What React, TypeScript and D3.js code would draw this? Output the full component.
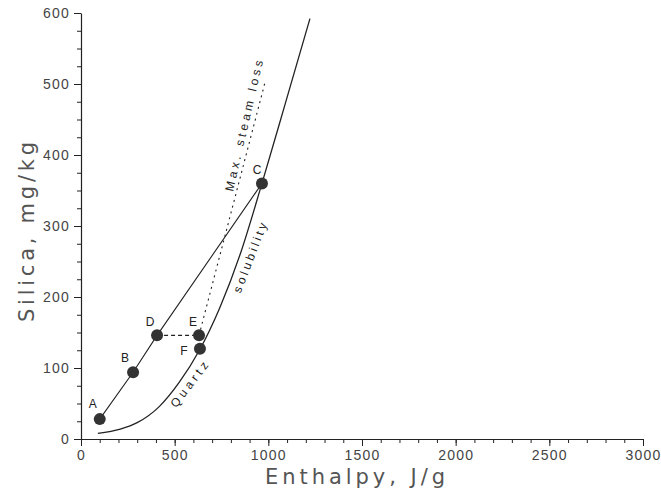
import { useEffect, useRef } from 'react';
import * as d3 from 'd3';

// points on the mixing line (enthalpy J/g, silica mg/kg)
const mixLabels = ['A', 'B', 'D', 'C'];
const mixH = [100, 278, 406, 966];
const mixS = [28, 94, 146, 360];

// separated water / steam points
const sepLabels = ['E', 'F'];
const sepH = [630, 635];
const sepS = [146, 127];

// quartz solubility curve
const quartzH = [90, 210, 300, 419, 525, 632, 741, 852, 966, 1090, 1222];
const quartzS = [8, 14, 23, 46, 80, 125, 185, 262, 360, 472, 592];

// max steam loss line, from E upwards
const steamH = [630, 985];
const steamS = [146, 505];

const xTicks = [0, 500, 1000, 1500, 2000, 2500, 3000];
const yTicks = [0, 100, 200, 300, 400, 500, 600];

function Chart() {
  const svgRef = useRef<SVGSVGElement>(null);

  useEffect(() => {
    const width = 661;
    const height = 495;
    const ink = '#222';

    const svg = d3.select(svgRef.current)
      .attr('width', width)
      .attr('height', height);

    svg.selectAll('*').remove();

    const x = d3.scaleLinear().domain([0, 3000]).range([81, 643]);
    const y = d3.scaleLinear().domain([0, 600]).range([439, 13]);

    // minor ticks
    svg.append('g')
      .attr('transform', `translate(0, ${y(0)})`)
      .call(d3.axisBottom(x).tickValues(d3.range(0, 3001, 100)).tickSize(4).tickFormat(() => ''))
      .call(g => g.select('.domain').remove())
      .selectAll('line').attr('stroke', ink);

    svg.append('g')
      .attr('transform', `translate(${x(0)}, 0)`)
      .call(d3.axisLeft(y).tickValues(d3.range(0, 601, 25)).tickSize(4).tickFormat(() => ''))
      .call(g => g.select('.domain').remove())
      .selectAll('line').attr('stroke', ink);

    // major ticks + labels
    const xAxis = svg.append('g')
      .attr('transform', `translate(0, ${y(0)})`)
      .call(d3.axisBottom(x).tickValues(xTicks).tickSize(7).tickSizeOuter(0).tickPadding(4).tickFormat(d3.format('d')));
    xAxis.select('.domain').attr('stroke', ink).attr('stroke-width', 1.2);
    xAxis.selectAll('line').attr('stroke', ink);
    xAxis.selectAll('text')
      .attr('font-family', 'Liberation Sans, Arial, sans-serif')
      .attr('font-size', 14)
      .attr('letter-spacing', 1.2)
      .attr('fill', '#444');

    const yAxis = svg.append('g')
      .attr('transform', `translate(${x(0)}, 0)`)
      .call(d3.axisLeft(y).tickValues(yTicks).tickSize(7).tickSizeOuter(0).tickPadding(4).tickFormat(d3.format('d')));
    yAxis.select('.domain').attr('stroke', ink).attr('stroke-width', 1.2);
    yAxis.selectAll('line').attr('stroke', ink);
    yAxis.selectAll('text')
      .attr('font-family', 'Liberation Sans, Arial, sans-serif')
      .attr('font-size', 14)
      .attr('letter-spacing', 1.2)
      .attr('fill', '#444');

    // axis titles
    svg.append('text')
      .attr('x', 355).attr('y', 484)
      .attr('text-anchor', 'middle')
      .attr('font-family', 'DejaVu Sans, sans-serif')
      .attr('font-size', 21)
      .attr('fill', '#555')
      .attr('textLength', 180)
      .attr('lengthAdjust', 'spacing')
      .text('Enthalpy,  J/g');

    svg.append('text')
      .attr('transform', 'translate(34, 232) rotate(-90)')
      .attr('text-anchor', 'middle')
      .attr('font-family', 'DejaVu Sans, sans-serif')
      .attr('font-size', 21)
      .attr('fill', '#555')
      .attr('textLength', 180)
      .attr('lengthAdjust', 'spacing')
      .text('Silica,  mg/kg');

    const line = d3.line<[number, number]>().x(d => x(d[0])).y(d => y(d[1]));

    // quartz solubility curve
    svg.append('path')
      .datum(quartzH.map((h, i) => [h, quartzS[i]] as [number, number]))
      .attr('d', line.curve(d3.curveMonotoneX))
      .attr('fill', 'none')
      .attr('stroke', ink)
      .attr('stroke-width', 1.3);

    line.curve(d3.curveLinear);

    // mixing line A-B-D-C
    svg.append('path')
      .datum(mixH.map((h, i) => [h, mixS[i]] as [number, number]))
      .attr('d', line)
      .attr('fill', 'none')
      .attr('stroke', ink)
      .attr('stroke-width', 1.1);

    // D-E flash (dashed)
    svg.append('path')
      .datum([[mixH[2], mixS[2]], [sepH[0], sepS[0]]] as [number, number][])
      .attr('d', line)
      .attr('fill', 'none')
      .attr('stroke', ink)
      .attr('stroke-width', 1.1)
      .attr('stroke-dasharray', '4,3');

    // max steam loss (dotted)
    svg.append('path')
      .datum(steamH.map((h, i) => [h, steamS[i]] as [number, number]))
      .attr('d', line)
      .attr('fill', 'none')
      .attr('stroke', ink)
      .attr('stroke-width', 1.1)
      .attr('stroke-dasharray', '2,4');

    // points
    const pts = [
      ...mixLabels.map((l, i) => ({ l, h: mixH[i], s: mixS[i] })),
      ...sepLabels.map((l, i) => ({ l, h: sepH[i], s: sepS[i] })),
    ];
    const offsets: Record<string, [number, number]> = {
      A: [-7, -14], B: [-8, -13], D: [-7, -13], C: [-5, -13], E: [-6, -13], F: [-16, 3],
    };

    svg.append('g')
      .selectAll('circle')
      .data(pts)
      .enter()
      .append('circle')
      .attr('cx', d => x(d.h))
      .attr('cy', d => y(d.s))
      .attr('r', 6)
      .attr('fill', '#333');

    svg.append('g')
      .selectAll('text')
      .data(pts)
      .enter()
      .append('text')
      .attr('x', d => x(d.h) + offsets[d.l][0])
      .attr('y', d => y(d.s) + offsets[d.l][1])
      .attr('text-anchor', 'middle')
      .attr('dominant-baseline', 'middle')
      .attr('font-family', 'Liberation Sans, Arial, sans-serif')
      .attr('font-size', 12)
      .attr('fill', '#222')
      .text(d => d.l);

    // curve annotations
    const notes = [
      { t: 'Max. steam loss', h: 875, s: 441, a: -77, len: 134 },
      { t: 'solubility', h: 907, s: 255, a: -69, len: 74 },
      { t: 'Quartz', h: 582, s: 76, a: -53, len: 54 },
    ];
    svg.append('g')
      .selectAll('text')
      .data(notes)
      .enter()
      .append('text')
      .attr('transform', d => `translate(${x(d.h)}, ${y(d.s)}) rotate(${d.a})`)
      .attr('text-anchor', 'middle')
      .attr('dominant-baseline', 'middle')
      .attr('font-family', 'Liberation Sans, Arial, sans-serif')
      .attr('font-size', 12)
      .attr('fill', '#222')
      .attr('textLength', d => d.len)
      .attr('lengthAdjust', 'spacing')
      .text(d => d.t);
  }, []);

  return <svg ref={svgRef} style={{ position: 'absolute', left: 0, top: 0, background: '#fff' }}></svg>;
}

export default function App() {
  return <Chart />;
}
